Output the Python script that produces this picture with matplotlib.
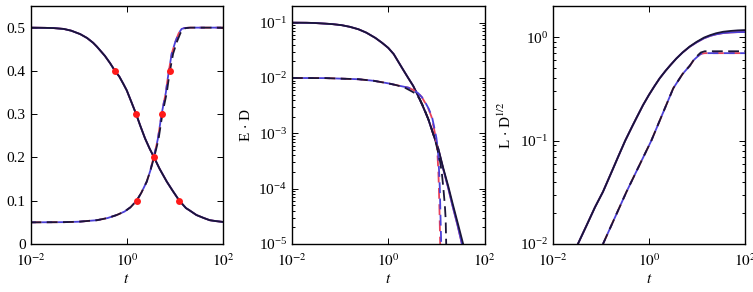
import matplotlib
matplotlib.use("Agg")
import matplotlib.pyplot as plt
from matplotlib.ticker import LogLocator, NullLocator, FixedLocator

plt.rcParams['font.family'] = ['Liberation Serif', 'DejaVu Serif']
plt.rcParams['mathtext.fontset'] = 'stix'

# panel 1: densities vs t
t1_solid = [0.01, 0.02, 0.03, 0.049, 0.07, 0.108, 0.15, 0.2, 0.24, 0.35, 0.45, 0.57, 0.7, 0.85,
            1.0, 1.25, 1.57, 1.9, 2.4, 3.0, 3.7, 4.8, 6.8, 9, 12.4, 17, 20, 28, 40, 53, 70, 100]
y1_solid = [0.5, 0.4995, 0.499, 0.497, 0.493, 0.485, 0.476, 0.465, 0.456, 0.435, 0.418, 0.4, 0.387, 0.37,
            0.355, 0.328, 0.3, 0.274, 0.244, 0.22, 0.2, 0.174, 0.144, 0.123, 0.1, 0.083, 0.078, 0.067, 0.06, 0.055, 0.053, 0.051]
t1_dash = [0.01, 0.05, 0.1, 0.24, 0.4, 0.62, 0.9, 1.2, 1.6, 2.0, 2.6, 3.1, 3.7, 4.1, 4.6, 5.5,
           6.1, 6.8, 7.3, 7.9, 9.2, 11, 13, 15, 17, 21, 100]
y1_dash = [0.05, 0.0505, 0.0515, 0.055, 0.06, 0.067, 0.075, 0.085, 0.1, 0.118, 0.144, 0.17, 0.2, 0.22, 0.244, 0.3,
           0.325, 0.35, 0.375, 0.4, 0.44, 0.467, 0.487, 0.497, 0.499, 0.5, 0.5]
t1_dash_m = [0.01, 0.05, 0.1, 0.24, 0.4, 0.62, 0.9, 1.2, 1.6, 2.0, 2.6, 3.1, 3.6, 4.0, 4.45, 5.3,
             5.85, 6.5, 6.95, 7.5, 8.6, 10.2, 12, 13.8, 15.8, 20, 100]
dots_t = [0.57, 1.57, 3.7, 1.6, 5.5, 7.9, 12.4]
dots_y = [0.4, 0.3, 0.2, 0.1, 0.3, 0.4, 0.1]

# panel 2: E.D vs t
t2_solid = [0.01, 0.02, 0.03, 0.049, 0.07, 0.108, 0.16, 0.24, 0.35, 0.54, 0.75, 1.0, 1.3, 1.6, 2.0,
            2.6, 3.3, 4.2, 5.4, 6.8, 8.5, 11, 14, 17.7, 22, 28.5, 36]
y2_solid = [0.1, 0.0995, 0.0985, 0.096, 0.094, 0.09, 0.084, 0.076, 0.066, 0.053, 0.043, 0.035, 0.027, 0.020, 0.0145,
            0.010, 0.0072, 0.0047, 0.0029, 0.0018, 0.001, 5.2e-4, 2.3e-4, 1.1e-4, 5.2e-5, 2.2e-5, 1e-5]
t2_solid_m = [0.01, 0.02, 0.03, 0.049, 0.07, 0.108, 0.16, 0.24, 0.35, 0.54, 0.75, 1.0, 1.3, 1.6, 2.0,
              2.6, 3.3, 4.2, 5.4, 6.8, 8.5, 11, 13.8, 17.3, 21.3, 27.5, 34]
t2_dash = [0.01, 0.05, 0.24, 0.5, 1.0, 1.5, 2.2, 2.8, 3.6, 4.5, 5.5, 6.8, 8, 9.3, 10.5, 12, 13, 14, 15, 15.6, 16]
y2_dash = [0.01, 0.00995, 0.0095, 0.0089, 0.008, 0.0074, 0.0067, 0.006, 0.0053, 0.0042, 0.0029, 0.0018, 0.0012,
           7.9e-4, 5.2e-4, 3e-4, 1.9e-4, 1e-4, 5e-5, 2.8e-5, 1e-5]
t2_dash_r = [0.01, 0.05, 0.24, 0.5, 1.0, 1.5, 2.6, 3.4, 4.2, 5.0, 5.8, 6.8, 7.9, 8.8, 9.7, 10.2, 10.6, 11.0, 11.3, 11.7, 12]
y2_dash_r = [0.01, 0.00995, 0.0095, 0.0089, 0.008, 0.0074, 0.0067, 0.006, 0.0053, 0.0045, 0.0036, 0.0028, 0.0020,
             0.0013, 8.3e-4, 6e-4, 3.8e-4, 2e-4, 1e-4, 3e-5, 1e-5]
t2_dash_b = [0.01, 0.05, 0.24, 0.5, 1.0, 1.5, 2.6, 3.4, 4.2, 5.0, 5.9, 6.9, 8.1, 9.0, 10.0, 10.5, 11.0, 11.4, 11.8, 12.2, 12.6]

# panel 3: L.D^(1/2) vs t
t3_solid = [0.033, 0.05, 0.075, 0.11, 0.17, 0.23, 0.32, 0.45, 0.55, 0.75, 1.0, 1.3, 1.67, 2.2, 2.8,
            3.7, 5, 7, 9.8, 14, 19, 25, 35, 50, 70, 100]
y3_solid = [0.01, 0.0151, 0.0227, 0.032, 0.0509, 0.0705, 0.1, 0.138, 0.166, 0.22, 0.277, 0.336, 0.40, 0.471, 0.537,
            0.62, 0.71, 0.81, 0.90, 0.99, 1.047, 1.09, 1.127, 1.148, 1.162, 1.17]
y3_solid_m = [0.01, 0.0151, 0.0227, 0.032, 0.0509, 0.0705, 0.1, 0.138, 0.166, 0.22, 0.277, 0.336, 0.40, 0.471, 0.537,
              0.62, 0.71, 0.805, 0.89, 0.975, 1.03, 1.065, 1.095, 1.11, 1.118, 1.12]
t3_dash = [0.11, 0.34, 1.12, 3.2, 5.0, 7.1, 8.7, 10.5, 12, 14.5, 100]
y3_dash = [0.01, 0.032, 0.1, 0.32, 0.44, 0.53, 0.61, 0.67, 0.71, 0.73, 0.73]
y3_dash_m = [0.01, 0.032, 0.1, 0.32, 0.44, 0.53, 0.605, 0.655, 0.69, 0.70, 0.70]

dark = '#1a1538'
red = '#e8405a'
blue = '#4a3fd8'
lw = 1.3
dash = (0, (6, 3))
dash_shift = (3, (6, 3))

fig = plt.figure(figsize=(7.53, 2.92), dpi=100)
ax1 = fig.add_axes([30.5/753, 48/292, 192.5/753, 238/292])
ax2 = fig.add_axes([292/753, 48/292, 192.5/753, 238/292])
ax3 = fig.add_axes([553/753, 48/292, 192/753, 238/292])

# panel 1
ax1.plot(t1_solid, y1_solid, color=red, lw=lw)
ax1.plot(t1_solid, y1_solid, color=blue, lw=lw)
ax1.plot(t1_solid, y1_solid, color=dark, lw=lw)
ax1.plot(t1_dash_m, y1_dash, color=red, lw=lw, ls=dash)
ax1.plot(t1_dash_m, y1_dash, color=blue, lw=lw, ls=dash_shift)
ax1.plot(t1_dash, y1_dash, color=dark, lw=lw, ls=dash)
ax1.plot(dots_t, dots_y, 'o', color='#ff1a1a', ms=5, mec='none')
ax1.set_xscale('log')
ax1.set_xlim(1e-2, 1e2)
ax1.set_ylim(0, 0.55)
ax1.yaxis.set_major_locator(FixedLocator([0, 0.1, 0.2, 0.3, 0.4, 0.5]))
ax1.set_yticklabels(['0', '0.1', '0.2', '0.3', '0.4', '0.5'])

# panel 2
ax2.plot(t2_solid_m, y2_solid, color=red, lw=lw)
ax2.plot(t2_solid_m, y2_solid, color=blue, lw=lw)
ax2.plot(t2_solid, y2_solid, color=dark, lw=lw)
ax2.plot(t2_dash_r, y2_dash_r, color=red, lw=lw, ls=dash)
ax2.plot(t2_dash_b, y2_dash_r, color=blue, lw=lw, ls=dash_shift)
ax2.plot(t2_dash, y2_dash, color=dark, lw=lw, ls=dash)
ax2.set_xscale('log')
ax2.set_yscale('log')
ax2.set_xlim(1e-2, 1e2)
ax2.set_ylim(1e-5, 0.2)
ax2.set_ylabel(r'E $\cdot$ D', fontsize=11)

# panel 3
ax3.plot(t3_solid, y3_solid_m, color=red, lw=lw)
ax3.plot(t3_solid, y3_solid_m, color=blue, lw=lw)
ax3.plot(t3_solid, y3_solid, color=dark, lw=lw)
ax3.plot(t3_dash, y3_dash_m, color=red, lw=lw, ls=dash)
ax3.plot(t3_dash, y3_dash_m, color=blue, lw=lw, ls=dash_shift)
ax3.plot(t3_dash, y3_dash, color=dark, lw=lw, ls=dash)
ax3.set_xscale('log')
ax3.set_yscale('log')
ax3.set_xlim(1e-2, 1e2)
ax3.set_ylim(1e-2, 2.0)
ax3.set_ylabel(r'L $\cdot$ D$^{1/2}$', fontsize=11)

for ax in (ax1, ax2, ax3):
    ax.xaxis.set_major_locator(FixedLocator([1e-2, 1e0, 1e2]))
    ax.xaxis.set_minor_locator(NullLocator())
    ax.set_xticklabels([r'$10^{-2}$', r'$10^{0}$', r'$10^{2}$'])
    ax.set_xlabel('$t$', fontsize=11, labelpad=3)
    ax.tick_params(which='both', direction='in', top=True, right=True,
                   labelsize=11, width=0.7)
    ax.tick_params(which='major', length=4)
    ax.tick_params(axis='x', pad=6)
    ax.tick_params(which='minor', length=2)
    for s in ax.spines.values():
        s.set_linewidth(1.0)

for ax in (ax2, ax3):
    ax.yaxis.set_major_locator(LogLocator(base=10, numticks=10))
    ax.yaxis.set_minor_locator(LogLocator(base=10, subs=range(2, 10), numticks=10))

fig.savefig('out.png', dpi=100)
